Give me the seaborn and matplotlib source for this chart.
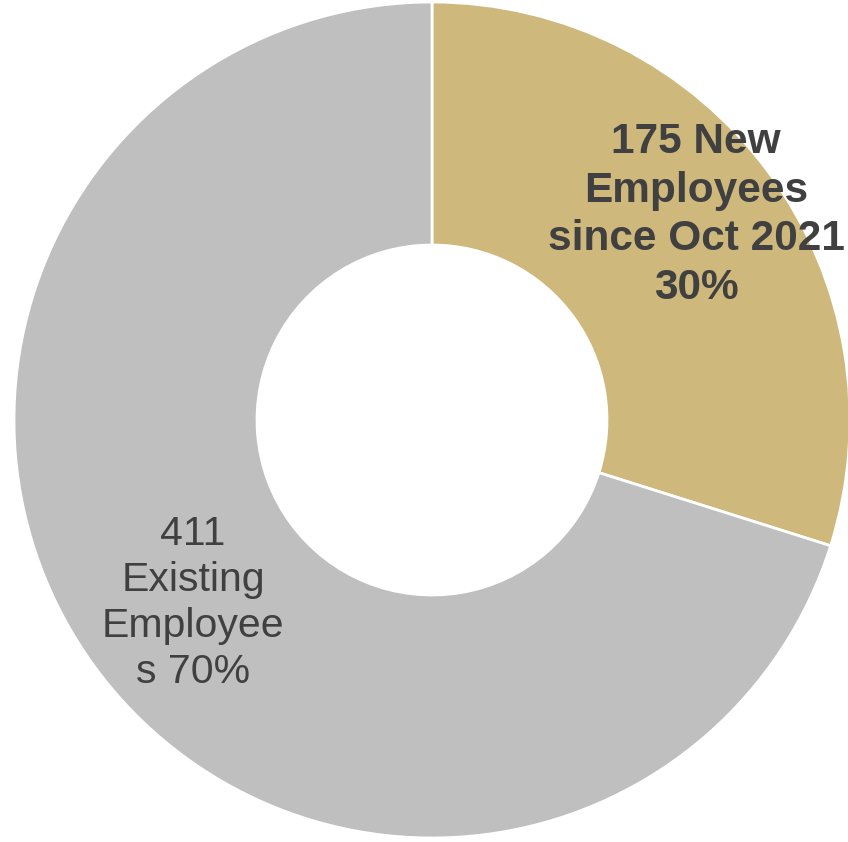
import matplotlib
matplotlib.use("Agg")
import matplotlib.pyplot as plt
import seaborn as sns

# Headcount split
categories = ["New Employees since Oct 2021", "Existing Employees"]
counts = [175, 411]
percent_labels = ["30%", "70%"]
slice_texts = ["175 New\nEmployees\nsince Oct 2021\n30%", "411\nExisting\nEmployee\ns 70%"]
slice_colors = ["#CFB87C", "#BFBFBF"]

sns.set_style("white")
plt.rcParams["font.family"] = ["Liberation Sans", "DejaVu Sans"]

W, H, DPI = 848, 842, 100
fig = plt.figure(figsize=(W / DPI, H / DPI), dpi=DPI)
ax = fig.add_axes([0, 0, 1, 1])

R = 418.0
cx, cy = 432.0, 420.0
hole = 175.0

wedges, _ = ax.pie(
    counts,
    colors=slice_colors,
    startangle=90,
    counterclock=False,
    radius=1.0,
    wedgeprops=dict(width=1 - hole / R, edgecolor="white", linewidth=2),
)

# label anchors in pixel space, converted to data units
label_px = [(696, 215), (193, 603)]
weights = ["bold", "normal"]
sizes = [30.5, 29.5]
for (px, py), txt, wt, fs in zip(label_px, slice_texts, weights, sizes):
    ax.text((px - cx) / R, (cy - py) / R, txt, ha="center", va="center",
            fontsize=fs, fontweight=wt, color="#404040", linespacing=1.27)

ax.set_xlim(-cx / R, (W - cx) / R)
ax.set_ylim(-(H - cy) / R, cy / R)
ax.set_aspect("equal")
ax.axis("off")

fig.savefig("out.png", dpi=DPI, facecolor="white")
